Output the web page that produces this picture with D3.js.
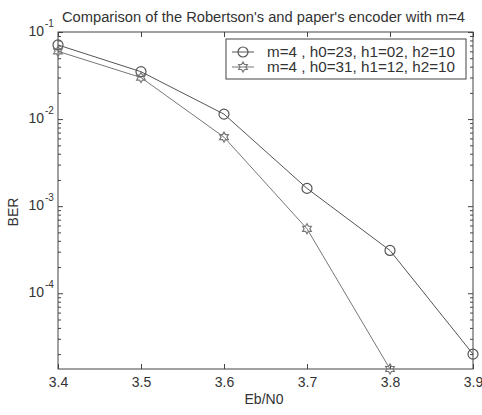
<!DOCTYPE html>
<html>
<head>
<script src="https://cdn.jsdelivr.net/npm/d3@7"></script>
<style>
  body { margin: 0; background: #fff; }
  text { font-family: "Liberation Sans", Arial, sans-serif; fill: #333; }
</style>
</head>
<body>
<svg width="482" height="415"></svg>
<script>
// data
var ebno = [3.4, 3.5, 3.6, 3.7, 3.8, 3.9];
var berRobertson = [0.071, 0.035, 0.0114, 0.0016, 0.00031, 0.000020];
var ebnoPaper = [3.4, 3.5, 3.6, 3.7, 3.8];
var berPaper = [0.060, 0.030, 0.0062, 0.00055, 0.0000135];
var xTicks = [3.4, 3.5, 3.6, 3.7, 3.8, 3.9];
var yTicks = [1e-1, 1e-2, 1e-3, 1e-4];
var legendLabels = ["m=4 , h0=23, h1=02, h2=10", "m=4 , h0=31, h1=12, h2=10"];

var svg = d3.select("svg");
var L = 58, R = 473, T = 32, B = 369;

var x = d3.scaleLinear().domain([3.4, 3.9]).range([L, R]);
var y = d3.scaleLog().domain([0.0000135, 0.1]).range([B, T]);

var axisColor = "#444";

// frame
svg.append("rect").attr("x", L).attr("y", T).attr("width", R - L).attr("height", B - T)
  .attr("fill", "none").attr("stroke", axisColor).attr("stroke-width", 1);

// x ticks bottom + top
var gx = svg.append("g").attr("transform", "translate(0," + B + ")")
  .call(d3.axisBottom(x).tickValues(xTicks).tickSize(-5).tickPadding(8).tickFormat(d3.format(".1f")));
var gxt = svg.append("g").attr("transform", "translate(0," + T + ")")
  .call(d3.axisTop(x).tickValues(xTicks).tickSize(-5).tickFormat(""));

// y minor ticks
var minor = [];
for (var e = -5; e <= -2; e++) {
  for (var m = 2; m <= 9; m++) {
    var v = m * Math.pow(10, e);
    if (v >= y.domain()[0] && v <= y.domain()[1]) minor.push(v);
  }
}
var gyl = svg.append("g").attr("transform", "translate(" + L + ",0)")
  .call(d3.axisLeft(y).tickValues(yTicks).tickSize(-5).tickFormat(""));
var gyr = svg.append("g").attr("transform", "translate(" + R + ",0)")
  .call(d3.axisRight(y).tickValues(yTicks).tickSize(-5).tickFormat(""));
var gylm = svg.append("g").attr("transform", "translate(" + L + ",0)")
  .call(d3.axisLeft(y).tickValues(minor).tickSize(-3).tickFormat(""));
var gyrm = svg.append("g").attr("transform", "translate(" + R + ",0)")
  .call(d3.axisRight(y).tickValues(minor).tickSize(-3).tickFormat(""));

[gx, gxt, gyl, gyr, gylm, gyrm].forEach(function(g) {
  g.select(".domain").remove();
  g.selectAll("line").attr("stroke", axisColor);
  g.selectAll("text").attr("font-size", 14).attr("fill", "#444")
    .attr("font-family", "Liberation Sans, Arial, sans-serif");
});

// y tick labels with superscripts
yTicks.forEach(function(t) {
  var ex = Math.round(Math.log10(t));
  svg.append("text").attr("x", 44).attr("y", y(t) + 4)
    .attr("text-anchor", "end").attr("font-size", 14).attr("fill", "#444").text("10");
  svg.append("text").attr("x", 45).attr("y", y(t) - 5)
    .attr("font-size", 10).attr("fill", "#444").text(ex);
});

// title and axis labels
svg.append("text").attr("x", 62).attr("y", 22)
  .attr("font-size", 14).attr("fill", "#333")
  .attr("textLength", 403).attr("lengthAdjust", "spacingAndGlyphs")
  .text("Comparison of the Robertson's and paper's encoder with m=4");
svg.append("text").attr("x", 264).attr("y", 404).attr("text-anchor", "middle")
  .attr("font-size", 14).attr("fill", "#444").text("Eb/N0");
svg.append("text").attr("transform", "translate(18,212) rotate(-90)")
  .attr("text-anchor", "middle").attr("font-size", 14).attr("fill", "#444").text("BER");

// hexagram path
function hexagram(r) {
  var p = d3.path();
  for (var k = 0; k < 12; k++) {
    var a = -Math.PI / 2 + k * Math.PI / 6;
    var rr = (k % 2 === 0) ? r : r * 0.58;
    var px = rr * Math.cos(a), py = rr * Math.sin(a);
    if (k === 0) p.moveTo(px, py); else p.lineTo(px, py);
  }
  p.closePath();
  return p.toString();
}

var line = d3.line().x(function(d) { return x(d[0]); }).y(function(d) { return y(d[1]); });

var s1 = ebno.map(function(d, i) { return [d, berRobertson[i]]; });
var s2 = ebnoPaper.map(function(d, i) { return [d, berPaper[i]]; });

var c1 = "#555", c2 = "#777";

svg.append("path").datum(s1).attr("d", line).attr("fill", "none").attr("stroke", c1).attr("stroke-width", 1);
svg.append("path").datum(s2).attr("d", line).attr("fill", "none").attr("stroke", c2).attr("stroke-width", 1);

svg.selectAll(".c1").data(s1).enter().append("circle")
  .attr("cx", function(d) { return x(d[0]); }).attr("cy", function(d) { return y(d[1]); })
  .attr("r", 5).attr("fill", "none").attr("stroke", c1).attr("stroke-width", 1.2);
svg.selectAll(".h2").data(s2).enter().append("path")
  .attr("transform", function(d) { return "translate(" + x(d[0]) + "," + y(d[1]) + ")"; })
  .attr("d", hexagram(5)).attr("fill", "none").attr("stroke", c2).attr("stroke-width", 1.2);

// legend
var lg = svg.append("g");
lg.append("rect").attr("x", 226).attr("y", 39).attr("width", 240).attr("height", 40)
  .attr("fill", "#fff").attr("stroke", axisColor);
[0, 1].forEach(function(i) {
  var ly = 52 + i * 15;
  var col = i === 0 ? c1 : c2;
  lg.append("line").attr("x1", 232).attr("x2", 254).attr("y1", ly).attr("y2", ly).attr("stroke", col);
  if (i === 0) {
    lg.append("circle").attr("cx", 243).attr("cy", ly).attr("r", 5).attr("fill", "none").attr("stroke", col).attr("stroke-width", 1.2);
  } else {
    lg.append("path").attr("transform", "translate(243," + ly + ")").attr("d", hexagram(5))
      .attr("fill", "none").attr("stroke", col).attr("stroke-width", 1.2);
  }
  lg.append("text").attr("x", 267).attr("y", ly + 5).attr("font-size", 14).attr("fill", "#333")
    .attr("textLength", 188).attr("lengthAdjust", "spacingAndGlyphs")
    .text(legendLabels[i]);
});
</script>
</body>
</html>
